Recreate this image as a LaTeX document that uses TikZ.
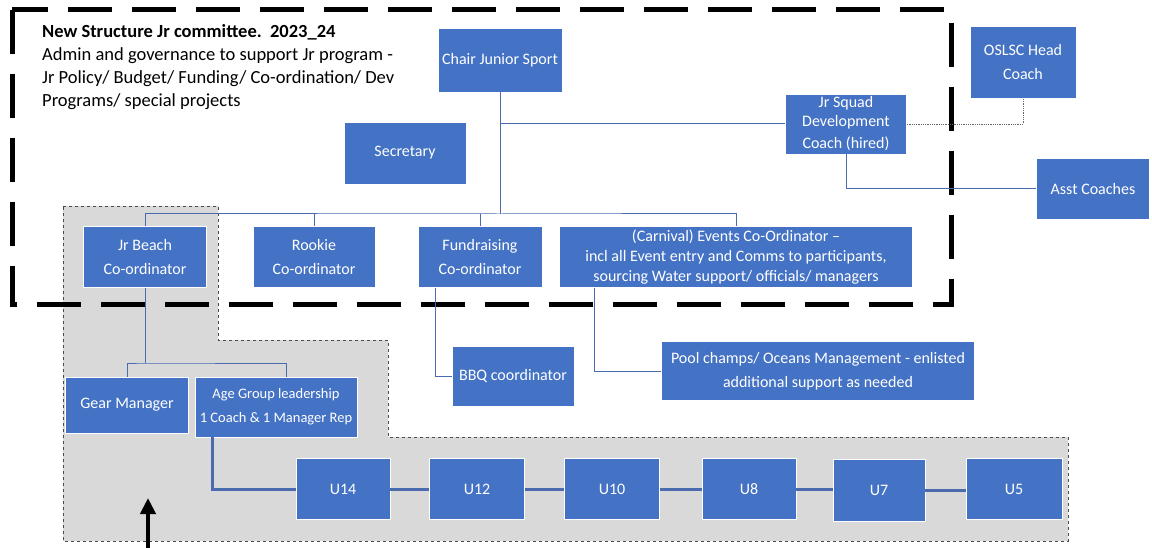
\documentclass[tikz,border=0pt]{standalone}
\usepackage{fontspec}
\setmainfont{Carlito}
\usetikzlibrary{arrows.meta, positioning}
\definecolor{boxblue}{HTML}{4472C4}
\definecolor{lineblue}{HTML}{4A6BAE}
\definecolor{shade}{HTML}{D9D9D9}
\tikzset{%
	role/.style={
		rectangle,
		draw=white,
		line width=0.6pt,
		fill=boxblue,
		text=white,
		align=center,
		inner sep=2pt,
		font=\fontsize{16}{24}\selectfont
	},
	size/.style 2 args={
		minimum width=#1pt,
		minimum height=#2pt
	},
	link/.style={draw=lineblue, line width=1pt},
	agelink/.style={draw=lineblue, line width=3pt},
}

\begin{document}
\begin{tikzpicture}[x=1pt, y=-1pt]
	\useasboundingbox (0,0) rectangle (1152,548);
	% shaded junior beach area
	\filldraw[fill=shade, draw=black!70, dashed, line width=0.9pt]
		(63,206) -- (218,206) -- (218,340) -- (388,340) -- (388,437)
		-- (1068,437) -- (1068,541) -- (63,541) -- cycle;
	\draw[line width=5pt, dash pattern=on 44pt off 20pt] (12,10) rectangle (951,305);

	\node[anchor=north west, align=left, inner sep=0pt, font=\fontsize{18.5}{23}\selectfont] (title) at (42,24)
		{\textbf{New Structure Jr committee.\ \ 2023\_24}\\
		Admin and governance to support Jr program -\\
		Jr Policy/ Budget/ Funding/ Co-ordination/ Dev\\
		Programs/ special projects};

	\node[role, size={124}{64}] (chair) at (500,60) {Chair Junior Sport};
	\node[role, size={122}{62}] (secretary) at (405,153) {Secretary};
	\node[role, size={121}{60}, font=\fontsize{16}{19}\selectfont] (squad) at (846,124) {Jr Squad\\ Development\\[3pt] Coach (hired)};
	\node[role, size={106}{72}] (head) at (1023,62) {OSLSC Head\\ Coach};
	\node[role, size={113}{61}] (asst) at (1093,189) {Asst Coaches};

	\node[role, size={123}{61}] (beach) at (145,257) {Jr Beach\\ Co-ordinator};
	\node[role, size={122}{61}] (rookie) at (314,257) {Rookie\\ Co-ordinator};
	\node[role, size={124}{61}] (fund) at (480,257) {Fundraising\\ Co-ordinator};
	\node[role, size={353}{61}, font=\fontsize{16}{20}\selectfont] (events) at (736,257)
		{(Carnival) Events Co-Ordinator --\\ incl all Event entry and Comms to participants,\\ sourcing Water support/ officials/ managers};

	\node[role, size={123}{56}] (gear) at (127,405) {Gear Manager};
	\node[role, size={162}{60}, font=\fontsize{14.5}{24}\selectfont] (age) at (276,407) {Age Group leadership\\ 1 Coach \& 1 Manager Rep};
	\node[role, size={122}{60}] (bbq) at (513,376) {BBQ coordinator};
	\node[role, size={313}{59}] (pool) at (818,371) {Pool champs/ Oceans Management - enlisted\\ additional support as needed};

	\node[role, size={94}{61}] (u14) at (343,489) {U14};
	\node[role, size={95}{61}] (u12) at (477,489) {U12};
	\node[role, size={95}{61}] (u10) at (612,489) {U10};
	\node[role, size={94}{61}] (u8) at (749,489) {U8};
	\node[role, size={92}{62}] (u7) at (879,490) {U7};
	\node[role, size={96}{61}] (u5) at (1014,489) {U5};

	\coordinate (bus) at (500,214);
	\coordinate (beachfork) at (145,363);

	\draw[link] (chair.south) -- (bus);
	\draw[link] (chair.south) |- (squad.west);
	\draw[link] (beach.north) |- (bus) -| (events.north);
	\draw[link] (rookie.north) -- (rookie.north |- bus);
	\draw[link] (fund.north) -- (fund.north |- bus);
	\draw[link] (squad.south) |- (asst.west);
	\draw[draw=black!60, densely dotted, line width=0.8pt] (squad.east) -| (head.south);

	\draw[link] (beach.south) -- (beachfork);
	\draw[link] (gear.north) |- (beachfork) -| ([xshift=10]age.north);
	\draw[link] ([xshift=-45]fund.south) |- (bbq.west);
	\draw[link] ([xshift=-142]events.south) |- (pool.west);

	\draw[agelink] ([xshift=-64]age.south) |- (u14.west);
	\foreach \a/\b in {u14/u12, u12/u10, u10/u8, u8/u7, u7/u5}
		\draw[agelink] (\a.east) -- (\a.east -| \b.west);

	\coordinate (arrowfoot) at (148,548);
	\coordinate (arrowtip) at (148,498);
	\draw[-{Triangle[length=16pt, width=15pt]}, line width=4pt] (arrowfoot) -- (arrowtip);
\end{tikzpicture}
\end{document}
